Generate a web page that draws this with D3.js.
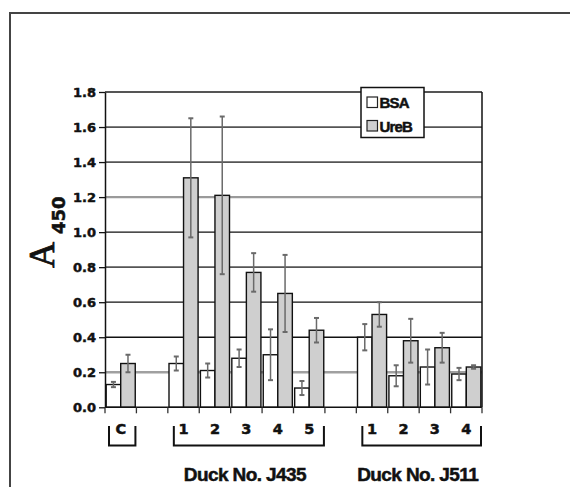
<!DOCTYPE html>
<html>
<head>
<meta charset="utf-8">
<script src="https://cdn.jsdelivr.net/npm/d3@7"></script>
<style>
  body { margin: 0; background: #fff; }
  .tick text { font-family: "DejaVu Sans", sans-serif; font-weight: bold; }
  .heavy { stroke: #111; stroke-width: 0.5; paint-order: stroke; }
</style>
</head>
<body>
<svg id="chart"></svg>
<script>
// Data (A450 means and error bar half-widths)
const categories = ["C", "", "1", "2", "3", "4", "5", "", "1", "2", "3", "4"];
const bsa = [0.13, null, 0.25, 0.21, 0.28, 0.30, 0.11, null, 0.40, 0.18, 0.23, 0.19];
const bsaErr = [0.015, null, 0.04, 0.04, 0.05, 0.145, 0.04, null, 0.075, 0.06, 0.10, 0.035];
const ureb = [0.25, null, 1.31, 1.21, 0.77, 0.65, 0.44, null, 0.53, 0.38, 0.34, 0.23];
const urebErr = [0.05, null, 0.34, 0.45, 0.11, 0.22, 0.07, null, 0.07, 0.125, 0.085, 0.01];
const yTicks = [0, 0.2, 0.4, 0.6, 0.8, 1.0, 1.2, 1.4, 1.6, 1.8];
const seriesNames = ["BSA", "UreB"];
const groupNames = ["", "Duck No. J435", "Duck No. J511"];
const groupFrom = [0, 2, 8];
const groupTo = [0, 6, 11];

// Layout
const W = 570, H = 487;
const plot = { left: 105, right: 482, top: 92, bottom: 407.3 };
const fills = { BSA: "#ffffff", UreB: "#cfcfcf" };

// grid line looks (the scan shows some lines grey and thick, some black)
const gridStyle = {
  "0.2": ["#a0a0a0", 2.4], "0.4": ["#111", 1.3], "0.6": ["#111", 1.3],
  "0.8": ["#555", 1.8], "1.0": ["#111", 1.3], "1.2": ["#9a9a9a", 2.4],
  "1.4": ["#555", 1.8], "1.6": ["#555", 1.8], "1.8": ["#555", 1.8]
};

const svg = d3.select("#chart").attr("width", W).attr("height", H);

// outer frame (runs off the right and bottom of the picture)
svg.append("rect")
  .attr("x", 10).attr("y", 13)
  .attr("width", 700).attr("height", 700)
  .attr("fill", "none").attr("stroke", "#444").attr("stroke-width", 2);

const x = d3.scaleBand()
  .domain(d3.range(categories.length))
  .range([plot.left, plot.right])
  .paddingInner(0).paddingOuter(0);

const xs = d3.scaleBand()
  .domain(seriesNames)
  .range([0, x.bandwidth()])
  .paddingInner(0).paddingOuter(0.08);

const y = d3.scaleLinear().domain([0, 1.8]).range([plot.bottom, plot.top]);

// grid lines
svg.append("g").selectAll("line")
  .data(yTicks.slice(1))
  .join("line")
  .attr("x1", plot.left).attr("x2", plot.right)
  .attr("y1", d => y(d)).attr("y2", d => y(d))
  .attr("stroke", d => gridStyle[d.toFixed(1)][0])
  .attr("stroke-width", d => gridStyle[d.toFixed(1)][1]);

// right border of plot area
svg.append("line")
  .attr("x1", plot.right).attr("x2", plot.right)
  .attr("y1", plot.top).attr("y2", plot.bottom)
  .attr("stroke", "#111").attr("stroke-width", 1.5);

// bars
const rows = categories.map((c, i) => ({ i, c, BSA: bsa[i], BSAe: bsaErr[i], UreB: ureb[i], UreBe: urebErr[i] }))
  .filter(d => d.BSA !== null);

const bars = [];
rows.forEach(d => seriesNames.forEach(s => bars.push({ i: d.i, s, v: d[s], e: d[s + "e"] })));

svg.append("g").selectAll("rect")
  .data(bars)
  .join("rect")
  .attr("x", d => x(d.i) + xs(d.s))
  .attr("y", d => y(d.v))
  .attr("width", xs.bandwidth())
  .attr("height", d => y(0) - y(d.v))
  .attr("fill", d => fills[d.s])
  .attr("stroke", "#111")
  .attr("stroke-width", 1.4);

// error bars
const err = svg.append("g").attr("stroke", "#6a6a6a").attr("stroke-width", 1.5);
bars.forEach(d => {
  const cx = x(d.i) + xs(d.s) + xs.bandwidth() / 2;
  err.append("line").attr("x1", cx).attr("x2", cx)
    .attr("y1", y(d.v + d.e)).attr("y2", y(d.v - d.e));
  [d.v + d.e, d.v - d.e].forEach(v => {
    err.append("line").attr("x1", cx - 2.5).attr("x2", cx + 2.5)
      .attr("y1", y(v)).attr("y2", y(v)).attr("stroke-width", 2);
  });
});

// y axis
const yAxis = svg.append("g")
  .attr("transform", `translate(${plot.left},0)`)
  .call(d3.axisLeft(y).tickValues(yTicks).tickFormat(d3.format(".1f")).tickSize(6).tickPadding(3).tickSizeOuter(0));
yAxis.select(".domain").attr("stroke", "#111").attr("stroke-width", 1.5);
yAxis.selectAll(".tick line").attr("stroke", "#111").attr("stroke-width", 1.3);
yAxis.selectAll(".tick text").attr("font-size", 13).attr("fill", "#111")
  .attr("class", "heavy").attr("dy", "0.36em");

// x axis: baseline and ticks on category boundaries
const xAxis = svg.append("g");
xAxis.append("line")
  .attr("x1", plot.left).attr("x2", plot.right)
  .attr("y1", plot.bottom).attr("y2", plot.bottom)
  .attr("stroke", "#111").attr("stroke-width", 1.5);
xAxis.selectAll("line.tk")
  .data(d3.range(categories.length + 1))
  .join("line").attr("class", "tk")
  .attr("x1", i => i < categories.length ? x(i) : plot.right)
  .attr("x2", i => i < categories.length ? x(i) : plot.right)
  .attr("y1", plot.bottom).attr("y2", plot.bottom + 6)
  .attr("stroke", "#333").attr("stroke-width", 1.3);

// category labels
svg.append("g").selectAll("text")
  .data(categories.map((c, i) => ({ c, i })).filter(d => d.c !== ""))
  .join("text")
  .attr("class", "heavy")
  .attr("x", d => x(d.i) + x.bandwidth() / 2)
  .attr("y", 433.5)
  .attr("text-anchor", "middle")
  .attr("font-family", "DejaVu Sans, sans-serif")
  .attr("font-weight", "bold")
  .attr("font-size", 14.5)
  .attr("fill", "#111")
  .text(d => d.c);

// brackets under the groups
const br = svg.append("g").attr("fill", "none").attr("stroke", "#111").attr("stroke-width", 2);
groupNames.forEach((g, k) => {
  const x0 = x(groupFrom[k]) + (k === 0 ? 4 : 6);
  const x1 = x(groupTo[k]) + x.bandwidth() - 1;
  br.append("path").attr("d", `M${x0},426 V445.5 H${x1} V426`);
  if (g) {
    svg.append("text")
      .attr("class", "heavy")
      .attr("x", (x0 + x1) / 2 - 4)
      .attr("y", 481)
      .attr("text-anchor", "middle")
      .attr("font-family", "Liberation Sans, Arial, sans-serif")
      .attr("font-weight", "bold")
      .attr("font-size", 19)
      .attr("letter-spacing", -0.6)
      .attr("fill", "#111")
      .text(g);
  }
});

// y axis title: A with subscript 450
const yt = svg.append("text")
  .attr("transform", "translate(54,268) rotate(-90)")
  .attr("fill", "#111");
yt.append("tspan")
  .attr("font-family", "Liberation Serif, Times New Roman, serif")
  .attr("font-size", 36)
  .attr("stroke", "#111").attr("stroke-width", 0.8)
  .text("A");
yt.append("tspan")
  .attr("dx", 8).attr("dy", 11)
  .attr("font-family", "DejaVu Sans, sans-serif")
  .attr("font-weight", "bold")
  .attr("font-size", 18)
  .attr("stroke", "#111").attr("stroke-width", 0.5)
  .text("450");

// legend
const lg = svg.append("g");
lg.append("rect")
  .attr("x", 361).attr("y", 87.5).attr("width", 63).attr("height", 50)
  .attr("fill", "#fff").attr("stroke", "#111").attr("stroke-width", 1.5);
seriesNames.forEach((s, k) => {
  const yy = 97 + k * 23.5;
  lg.append("rect")
    .attr("x", 367).attr("y", yy).attr("width", 10.5).attr("height", 10.5)
    .attr("fill", fills[s]).attr("stroke", "#222").attr("stroke-width", 1.2);
  lg.append("text")
    .attr("class", "heavy")
    .attr("x", 379.5).attr("y", yy + 11)
    .attr("font-family", "Liberation Sans, Arial, sans-serif")
    .attr("font-weight", "bold")
    .attr("font-size", 15)
    .attr("letter-spacing", -0.8)
    .attr("fill", "#111")
    .text(s);
});
</script>
</body>
</html>
